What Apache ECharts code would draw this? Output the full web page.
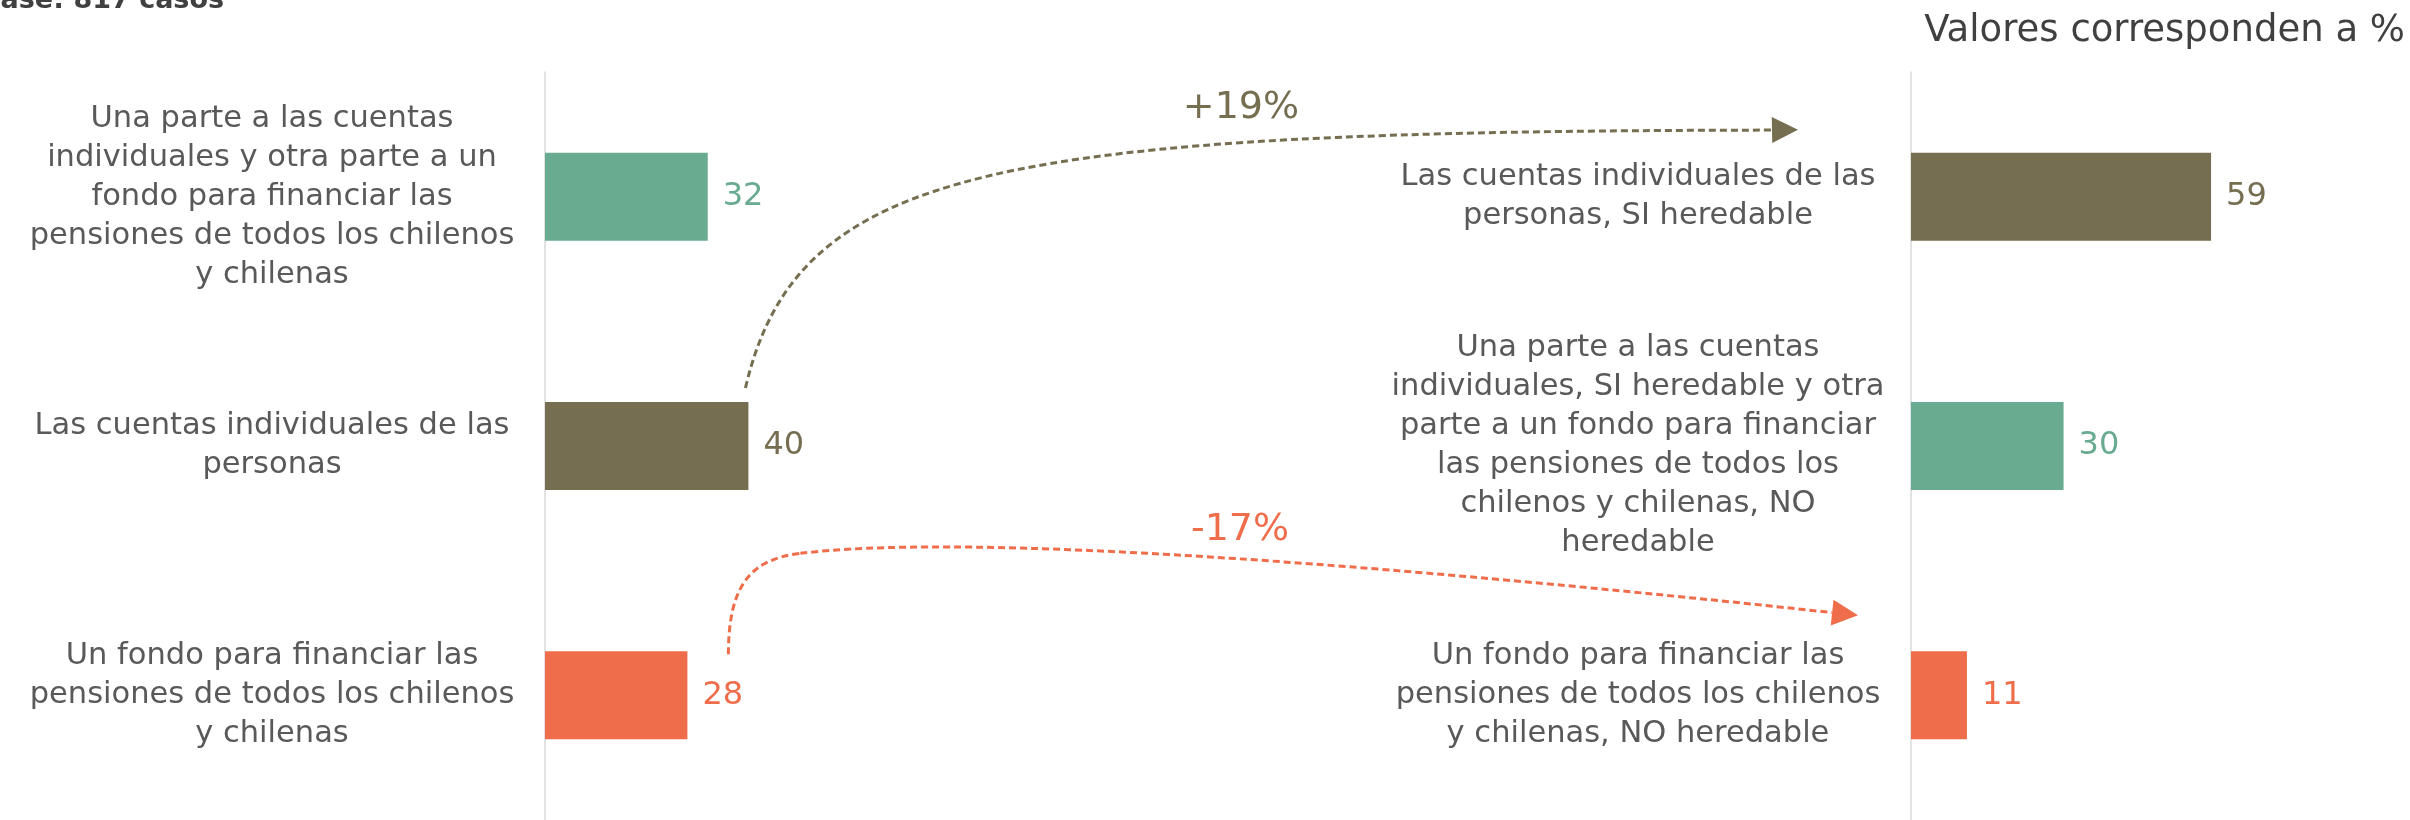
<!DOCTYPE html>
<html>
<head>
<meta charset="utf-8">
<script src="https://cdn.jsdelivr.net/npm/echarts/dist/echarts.min.js"></script>
<style>
  body { margin: 0; background: #fff; }
  #main { width: 2410px; height: 820px; }
</style>
</head>
<body>
<div id="main"></div>
<script>
// datos
var leftCategories = [
  'Una parte a las cuentas\nindividuales y otra parte a un\nfondo para financiar las\npensiones de todos los chilenos\ny chilenas',
  'Las cuentas individuales de las\npersonas',
  'Un fondo para financiar las\npensiones de todos los chilenos\ny chilenas'
];
var leftValues = [32, 40, 28];

var rightCategories = [
  'Las cuentas individuales de las\npersonas, SI heredable',
  'Una parte a las cuentas\nindividuales, SI heredable y otra\nparte a un fondo para financiar\nlas pensiones de todos los\nchilenos y chilenas, NO\nheredable',
  'Un fondo para financiar las\npensiones de todos los chilenos\ny chilenas, NO heredable'
];
var rightValues = [59, 30, 11];

var changeLabels = ['+19%', '-17%'];
var baseText = 'Base: 817 casos';
var unitText = 'Valores corresponden a %';

// colores
var GREEN = '#69ab91';
var BROWN = '#766e51';
var ORANGE = '#ef6d4b';
var leftColors = [GREEN, BROWN, ORANGE];
var rightColors = [BROWN, GREEN, ORANGE];

var FONT = 'DejaVu Sans';
var TXT = '#595959';

function items(values, colors) {
  return values.map(function (v, i) {
    return { value: v, itemStyle: { color: colors[i] }, label: { color: colors[i] } };
  });
}

function catAxis(idx, data) {
  return {
    type: 'category',
    gridIndex: idx,
    data: data,
    inverse: true,
    axisLine: { show: true, lineStyle: { color: '#d9d9d9', width: 1.5 } },
    axisTick: { show: false },
    axisLabel: {
      fontFamily: FONT,
      fontSize: 30.5,
      lineHeight: 39,
      color: TXT,
      align: 'center',
      margin: 273
    }
  };
}

function valAxis(idx) {
  return { type: 'value', gridIndex: idx, min: 0, max: 70, show: false };
}

function barSeries(idx, values, colors) {
  return {
    type: 'bar',
    xAxisIndex: idx,
    yAxisIndex: idx,
    barWidth: 88,
    data: items(values, colors),
    label: {
      show: true,
      position: 'right',
      distance: 15,
      fontFamily: FONT,
      fontSize: 32
    },
    silent: true
  };
}

var chart = echarts.init(document.getElementById('main'));

var option = {
  animation: false,
  backgroundColor: '#fff',
  title: [
    {
      text: baseText, left: -20, top: -13, padding: 0,
      textStyle: { fontFamily: FONT, fontSize: 27, fontWeight: 'bold', color: '#404040' }
    },
    {
      text: unitText, right: 5, top: 13, padding: 0,
      textStyle: { fontFamily: FONT, fontSize: 37, fontWeight: 'normal', color: '#404040' }
    }
  ],
  grid: [
    { left: 545, top: 72, width: 356, height: 753 },
    { left: 1911, top: 72, width: 356, height: 753 }
  ],
  xAxis: [valAxis(0), valAxis(1)],
  yAxis: [catAxis(0, leftCategories), catAxis(1, rightCategories)],
  series: [
    barSeries(0, leftValues, leftColors),
    barSeries(1, rightValues, rightColors)
  ]
};

chart.setOption(option);

// flechas de cambio
function arrowHead(tip, from, color) {
  var dx = tip[0] - from[0], dy = tip[1] - from[1];
  var len = Math.sqrt(dx * dx + dy * dy);
  var ux = dx / len, uy = dy / len;
  var L = 26, h = 13;
  var bx = tip[0] - ux * L, by = tip[1] - uy * L;
  return {
    base: [bx, by],
    el: {
      type: 'polygon',
      shape: { points: [tip, [bx - uy * h, by + ux * h], [bx + uy * h, by - ux * h]] },
      style: { fill: color },
      silent: true
    }
  };
}

function curve(p0, p1, p2, p3, color) {
  return {
    type: 'bezierCurve',
    shape: { x1: p0[0], y1: p0[1], cpx1: p1[0], cpy1: p1[1], cpx2: p2[0], cpy2: p2[1], x2: p3[0], y2: p3[1] },
    style: { stroke: color, lineWidth: 3, lineDash: [7, 4], fill: null },
    silent: true
  };
}

var brownBar = chart.convertToPixel({ gridIndex: 0 }, [leftValues[1], 1]);
var brownRight = chart.convertToPixel({ gridIndex: 1 }, [0, 0]);
var orangeBar = chart.convertToPixel({ gridIndex: 0 }, [leftValues[2], 2]);
var orangeRight = chart.convertToPixel({ gridIndex: 1 }, [0, 2]);

var g = [];

// +19%
var s1 = [brownBar[0] - 3, brownBar[1] - 58];
var t1 = [brownRight[0] - 113, brownRight[1] - 67];
var c1 = [s1[0] + 52, s1[1] - 222];
var c2 = [s1[0] + 252, s1[1] - 257];
var ah1 = arrowHead(t1, [t1[0] - 60, t1[1] + 1], BROWN);
g.push(curve(s1, c1, c2, ah1.base, BROWN));
g.push(ah1.el);

// -17%
var s2 = [orangeBar[0] + 41, orangeBar[1] - 41];
var m2 = [s2[0] + 72, s2[1] - 101];
var t2 = [orangeRight[0] - 53, orangeRight[1] - 80];
var ah2 = arrowHead(t2, [t2[0] - 300, t2[1] - 32], ORANGE);
g.push(curve(s2, [s2[0], s2[1] - 69], [s2[0] + 22, s2[1] - 95], m2, ORANGE));
g.push(curve(m2, [m2[0] + 150, m2[1] - 18], [m2[0] + 500, m2[1] + 2], ah2.base, ORANGE));
g.push(ah2.el);

g.push({
  type: 'text', x: 1241, y: 108,
  style: { text: changeLabels[0], fontFamily: FONT, fontSize: 38, fill: BROWN, align: 'center', verticalAlign: 'middle' },
  silent: true
});
g.push({
  type: 'text', x: 1240, y: 530,
  style: { text: changeLabels[1], fontFamily: FONT, fontSize: 38, fill: ORANGE, align: 'center', verticalAlign: 'middle' },
  silent: true
});

chart.setOption({ graphic: g });
</script>
</body>
</html>
